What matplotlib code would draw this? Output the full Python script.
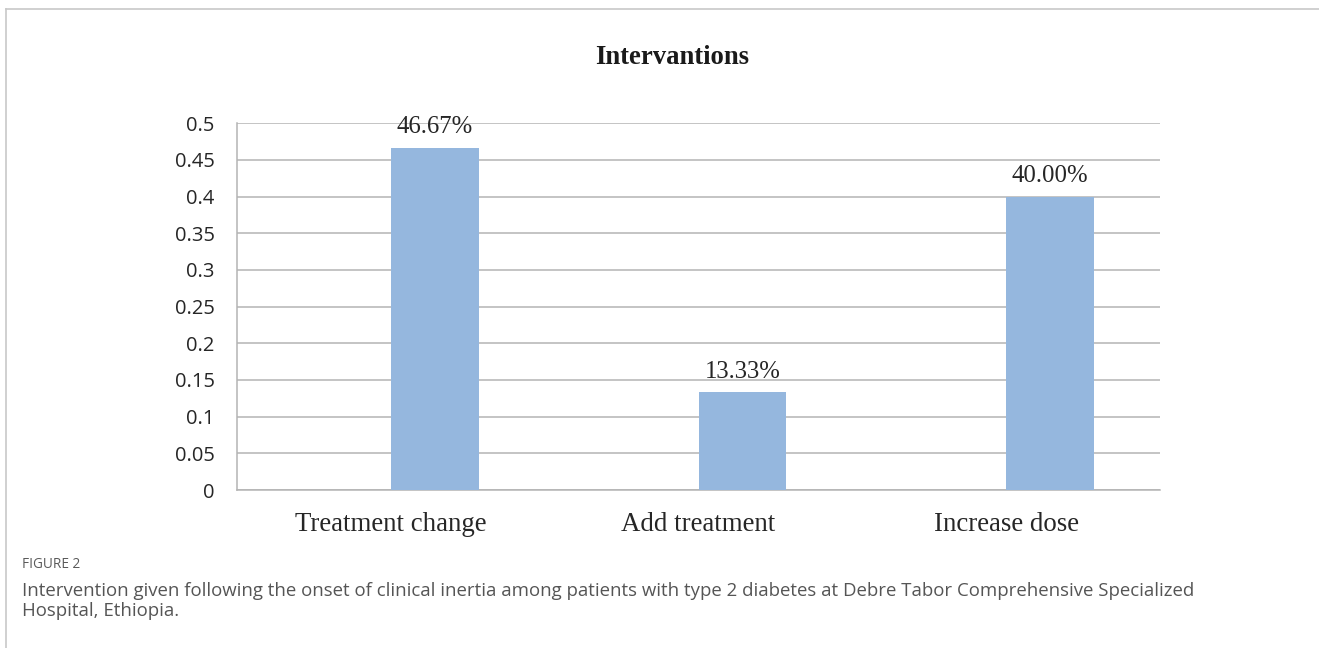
import matplotlib
matplotlib.use("Agg")
import matplotlib.pyplot as plt
import numpy as np
from matplotlib.lines import Line2D

categories = ["Treatment change", "Add treatment", "Increase dose"]
values = [0.4667, 0.1333, 0.40]
value_labels = ["46.67%", "13.33%", "40.00%"]
yticks = [0, 0.05, 0.1, 0.15, 0.2, 0.25, 0.3, 0.35, 0.4, 0.45, 0.5]
ytick_labels = ["0", "0.05", "0.1", "0.15", "0.2", "0.25", "0.3", "0.35", "0.4", "0.45", "0.5"]
title = "Intervantions"
fig_label = "FIGURE 2"
caption = ("Intervention given following the onset of clinical inertia among patients with type 2 diabetes at Debre Tabor Comprehensive Specialized\n"
           "Hospital, Ethiopia.")

W, H = 1319, 648
fig = plt.figure(figsize=(W / 100, H / 100), dpi=100)

# border lines (top and left)
fig.add_artist(Line2D([6 / W, 1.0], [1 - 9 / H, 1 - 9 / H], color="#c8c8c8", lw=1.2))
fig.add_artist(Line2D([6 / W, 6 / W], [0, 1 - 9 / H], color="#c8c8c8", lw=1.2))

left, right, top, bottom = 237, 1160, 123.3, 490
ax = fig.add_axes([left / W, 1 - bottom / H, (right - left) / W, (bottom - top) / H])

x = np.arange(len(categories))
bw = 0.286
ax.bar(x + bw / 2, values, width=bw, color="#95B7DE", zorder=3)
for xi, v, lab in zip(x, values, value_labels):
    ax.text(xi + bw / 2, v + 0.013, lab, ha="center", va="bottom",
            fontfamily="Liberation Serif", fontsize=17.8, color="#262626", zorder=4)

ax.set_xlim(-0.5, len(categories) - 0.5)
ax.set_ylim(0, 0.5)
ax.set_yticks(yticks)
ax.set_yticklabels(ytick_labels, fontfamily="Open Sans", fontsize=14.5, color="#262626")
ax.set_xticks(x)
ax.set_xticklabels(categories, fontfamily="Liberation Serif", fontsize=19.4, color="#262626")
ax.tick_params(axis="both", length=0)
ax.tick_params(axis="y", pad=16)
ax.tick_params(axis="x", pad=16)
ax.yaxis.grid(True, color="#b4b4b4", lw=1.1, zorder=0)
for s in ["top", "right"]:
    ax.spines[s].set_visible(False)
ax.spines["left"].set_color("#b4b4b4")
ax.spines["bottom"].set_color("#b4b4b4")
ax.spines["left"].set_linewidth(1.1)
ax.spines["bottom"].set_linewidth(1.1)
ax.set_axisbelow(True)

fig.text(672 / W, 1 - 58 / H, title, ha="center", va="center",
         fontfamily="Liberation Serif", fontweight="bold", fontsize=19.2, color="#1a1a1a")

fig.text(22 / W, 1 - 565 / H, fig_label, ha="left", va="center",
         fontfamily="Open Sans", fontsize=9.8, color="#5a5a5a")
fig.text(22 / W, 1 - 582 / H, caption, ha="left", va="top",
         fontfamily="Open Sans", fontsize=13.4, color="#555555", linespacing=1.15)

fig.savefig("out.png", dpi=100)
